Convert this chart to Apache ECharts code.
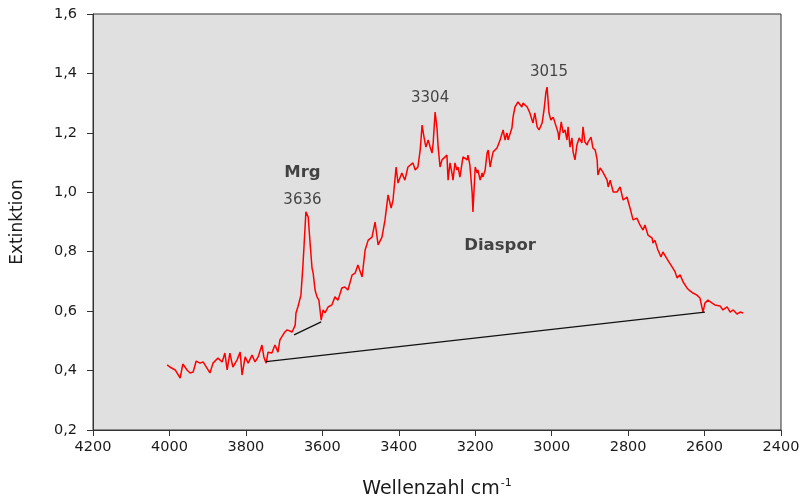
<!DOCTYPE html>
<html>
<head>
<meta charset="utf-8">
<script src="https://cdn.jsdelivr.net/npm/echarts@6/dist/echarts.min.js"></script>
<style>
  html, body { margin: 0; padding: 0; background: #fff; }
  #chart { width: 803px; height: 498px; }
</style>
</head>
<body>
<div id="chart"></div>
<script>
// Spektrum: Wellenzahl (cm-1) und Extinktion
var wavenumbers = [
  4006, 3999, 3985, 3972, 3965, 3954, 3946, 3938, 3930, 3920, 3912, 3894, 3886, 3873, 3862, 3855, 3849, 3842,
  3834, 3823, 3815, 3810, 3802, 3794, 3784, 3776, 3768, 3758, 3753, 3747, 3742, 3732, 3724, 3716,
  3711, 3698, 3692, 3679, 3671, 3669, 3664, 3656, 3651, 3648, 3643, 3637, 3632, 3627, 3624, 3619, 3614, 3609,
  3603, 3598, 3593, 3585, 3575, 3567, 3559, 3549, 3541, 3533, 3522, 3514, 3507, 3496, 3488, 3480, 3470, 3462,
  3454, 3444, 3436, 3428, 3420, 3415, 3407, 3402, 3392, 3384, 3376, 3363,
  3357, 3350, 3344, 3339, 3334, 3329, 3323, 3318, 3313, 3310, 3305, 3300, 3297, 3292, 3287, 3284, 3274, 3271,
  3266, 3261, 3258, 3253, 3248, 3245, 3240, 3232, 3221, 3219, 3214, 3208, 3206, 3200, 3195, 3193, 3187, 3182,
  3180, 3174, 3169, 3166, 3161, 3156, 3153, 3143, 3135, 3127, 3122, 3117, 3114, 3104, 3101, 3096, 3088, 3078,
  3075, 3064, 3057, 3049, 3044, 3038, 3033, 3025, 3020, 3015, 3012, 3007, 3002, 2996,
  2991, 2983, 2981, 2975, 2970, 2965, 2960, 2957, 2952, 2947, 2944, 2939, 2934, 2928, 2921, 2918, 2913, 2907,
  2905, 2897, 2892, 2886, 2881, 2879, 2873, 2866, 2855, 2852, 2847, 2839, 2829, 2821, 2813, 2803, 2795, 2787, 2777,
  2769, 2761, 2756, 2748, 2737, 2735, 2730, 2722, 2714, 2709, 2701, 2693, 2685, 2677, 2672, 2664, 2656, 2646,
  2638, 2630, 2620, 2612, 2607, 2604, 2599, 2591, 2580, 2573, 2559, 2552, 2541, 2533, 2525, 2515, 2507, 2499
];
var extinction = [
  0.419, 0.412, 0.402, 0.375, 0.422, 0.402, 0.392, 0.395, 0.432, 0.425, 0.429, 0.392, 0.425, 0.442, 0.429, 0.459, 0.402, 0.459,
  0.412, 0.436, 0.462, 0.385, 0.446, 0.425, 0.452, 0.429, 0.446, 0.486, 0.446, 0.425, 0.462, 0.459, 0.486, 0.462,
  0.503, 0.530, 0.537, 0.530, 0.553, 0.594, 0.614, 0.654, 0.749, 0.816, 0.934, 0.917, 0.829, 0.745, 0.728, 0.671, 0.648, 0.637,
  0.570, 0.604, 0.594, 0.614, 0.621, 0.648, 0.637, 0.678, 0.681, 0.671, 0.722, 0.728, 0.755, 0.715, 0.806, 0.839, 0.849, 0.900,
  0.823, 0.849, 0.907, 0.991, 0.947, 0.974, 1.085, 1.031, 1.065, 1.041, 1.085, 1.099,
  1.075, 1.085, 1.142, 1.226, 1.186, 1.152, 1.176, 1.152, 1.132, 1.166, 1.270, 1.216, 1.152, 1.085, 1.109, 1.115, 1.125, 1.041,
  1.099, 1.065, 1.041, 1.099, 1.075, 1.085, 1.051, 1.119, 1.109, 1.125, 1.092, 0.998, 0.934, 1.085, 1.065, 1.075, 1.041, 1.065,
  1.051, 1.075, 1.132, 1.142, 1.085, 1.119, 1.136, 1.149, 1.176, 1.210, 1.176, 1.200, 1.176, 1.216, 1.253, 1.287, 1.304, 1.287,
  1.300, 1.287, 1.267, 1.233, 1.267, 1.220, 1.210, 1.233, 1.277, 1.337, 1.354, 1.267, 1.243, 1.253,
  1.250, 1.200, 1.176, 1.237, 1.200, 1.210, 1.176, 1.220, 1.152, 1.183, 1.136, 1.109, 1.159, 1.183, 1.166, 1.220, 1.169, 1.159,
  1.169, 1.186, 1.149, 1.142, 1.109, 1.058, 1.082, 1.068, 1.041, 1.018, 1.041, 1.001, 1.001, 1.018, 0.974, 0.984, 0.947, 0.907, 0.913,
  0.890, 0.873, 0.890, 0.856, 0.846, 0.829, 0.839, 0.806, 0.782, 0.799, 0.782, 0.765, 0.749, 0.732, 0.712, 0.722, 0.698, 0.678,
  0.668, 0.661, 0.654, 0.644, 0.614, 0.597, 0.627, 0.637, 0.627, 0.621, 0.617, 0.604, 0.614, 0.597, 0.604, 0.590, 0.597, 0.594
];

// Basislinien
var baselineDiaspor = [[3747, 0.430], [2599, 0.597]];
var baselineMrg = [[3674, 0.520], [3603, 0.564]];

// Beschriftungen [Wellenzahl, Extinktion, Text]
var boldLabels = [[3652, 1.065, 'Mrg'], [3135, 0.820, 'Diaspor']];
var peakLabels = [[3652, 0.975, '3636'], [3318, 1.318, '3304'], [3007, 1.405, '3015']];

var spectrum = [];
for (var i = 0; i < wavenumbers.length; i++) {
  spectrum.push([wavenumbers[i], extinction[i]]);
}

var myChart = echarts.init(document.getElementById('chart'));
var fontName = 'DejaVu Sans, Verdana, sans-serif';

var option = {
  animation: false,
  grid: {
    left: 93, right: 22, top: 14, bottom: 68,
    outerBoundsMode: 'none',
    show: true,
    backgroundColor: '#e0e0e0',
    borderColor: '#333',
    borderWidth: 1
  },
  xAxis: {
    type: 'value',
    inverse: true,
    min: 2400, max: 4200, interval: 200,
    name: 'Wellenzahl cm{sup|-1}',
    nameLocation: 'middle',
    nameGap: 48,
    nameTextStyle: {
      fontFamily: fontName, fontSize: 19, color: '#1a1a1a',
      rich: { sup: { fontFamily: fontName, fontSize: 11, color: '#1a1a1a', verticalAlign: 'top', padding: [0, 0, 12, 1] } }
    },
    axisLine: { lineStyle: { color: '#333', width: 1 } },
    axisTick: { length: 6, lineStyle: { color: '#333' } },
    axisLabel: {
      fontFamily: fontName, fontSize: 14.5, color: '#1a1a1a', margin: 10,
      formatter: function (v) { return String(v); }
    },
    splitLine: { show: false }
  },
  yAxis: {
    type: 'value',
    min: 0.2, max: 1.6, interval: 0.2,
    name: 'Extinktion',
    nameLocation: 'middle',
    nameGap: 67,
    nameTextStyle: { fontFamily: fontName, fontSize: 17, color: '#1a1a1a' },
    axisLine: { show: true, lineStyle: { color: '#333', width: 1 } },
    axisTick: { show: true, length: 6, lineStyle: { color: '#333' } },
    axisLabel: {
      fontFamily: fontName, fontSize: 14.5, color: '#1a1a1a', margin: 16,
      formatter: function (v) { return v.toFixed(1).replace('.', ','); }
    },
    splitLine: { show: false }
  },
  series: [
    {
      type: 'line',
      data: spectrum,
      symbol: 'none',
      lineStyle: { color: '#ff0000', width: 1.5 }
    },
    {
      type: 'line',
      data: baselineDiaspor,
      symbol: 'none',
      lineStyle: { color: '#111', width: 1.2 }
    },
    {
      type: 'line',
      data: baselineMrg,
      symbol: 'none',
      lineStyle: { color: '#111', width: 1.2 }
    },
    {
      type: 'scatter',
      data: peakLabels,
      symbolSize: 0,
      label: {
        show: true, position: 'inside',
        formatter: function (p) { return p.value[2]; },
        fontFamily: fontName, fontSize: 15, color: '#1a1a1a'
      }
    },
    {
      type: 'scatter',
      data: boldLabels,
      symbolSize: 0,
      label: {
        show: true, position: 'inside',
        formatter: function (p) { return p.value[2]; },
        fontFamily: fontName, fontSize: 16.5, fontWeight: 'bold', color: '#1a1a1a'
      }
    }
  ]
};

myChart.setOption(option);
</script>
</body>
</html>
